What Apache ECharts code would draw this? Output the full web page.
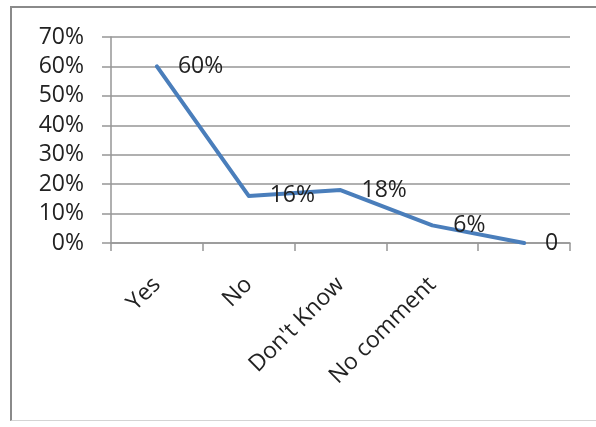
<!DOCTYPE html>
<html>
<head>
<meta charset="utf-8">
<script src="https://cdn.jsdelivr.net/npm/echarts@6/dist/echarts.min.js"></script>
<style>
html,body{margin:0;padding:0;background:#fff;}
#frame{position:absolute;left:10px;top:6px;width:600px;height:412px;border-top:2px solid #8a8a8a;border-left:2px solid #8a8a8a;border-bottom:1px solid #d4d4d4;}
#chart{position:absolute;left:0;top:0;width:596px;height:427px;}
</style>
</head>
<body>
<div id="frame"></div>
<div id="chart"></div>
<script>
var categories = ["Yes", "No", "Don't Know", "No comment", ""];
var values = [60, 16, 18, 6, 0];
var pointLabels = ["60%", "16%", "18%", "6%", "0"];
var yTicks = [0, 10, 20, 30, 40, 50, 60, 70];

var font = "Open Sans";
var chart = echarts.init(document.getElementById('chart'), null, {renderer: 'canvas'});
chart.setOption({
  animation: false,
  backgroundColor: 'transparent',
  grid: {left: 111, right: 26, top: 37, bottom: 184, containLabel: false},
  xAxis: {
    type: 'category',
    data: categories,
    boundaryGap: true,
    axisLine: {show: true, lineStyle: {color: '#969696', width: 1.5}},
    axisTick: {show: true, length: 8, alignWithLabel: false, lineStyle: {color: '#969696', width: 1.5}},
    axisLabel: {rotate: 45, margin: 38, interval: 0, color: '#222', fontFamily: font, fontSize: 23}
  },
  yAxis: {
    type: 'value',
    min: yTicks[0],
    max: yTicks[yTicks.length - 1],
    interval: 10,
    axisLine: {show: true, lineStyle: {color: '#969696', width: 1.5}},
    axisTick: {show: true, length: 9, lineStyle: {color: '#969696', width: 1.5}},
    splitLine: {show: true, lineStyle: {color: '#969696', width: 1.5}},
    axisLabel: {margin: 27, color: '#222', fontFamily: font, fontSize: 23, formatter: function (v) { return v + '%'; }}
  },
  series: [{
    type: 'line',
    data: values,
    showSymbol: true,
    symbol: 'circle',
    symbolSize: 0,
    lineStyle: {color: '#4a7ebb', width: 4, cap: 'round', join: 'round'},
    label: {
      show: true,
      position: 'right',
      distance: 21,
      color: '#222',
      fontFamily: font,
      fontSize: 23,
      formatter: function (p) { return pointLabels[p.dataIndex]; }
    },
    itemStyle: {color: '#4a7ebb'}
  }]
});
</script>
</body>
</html>
